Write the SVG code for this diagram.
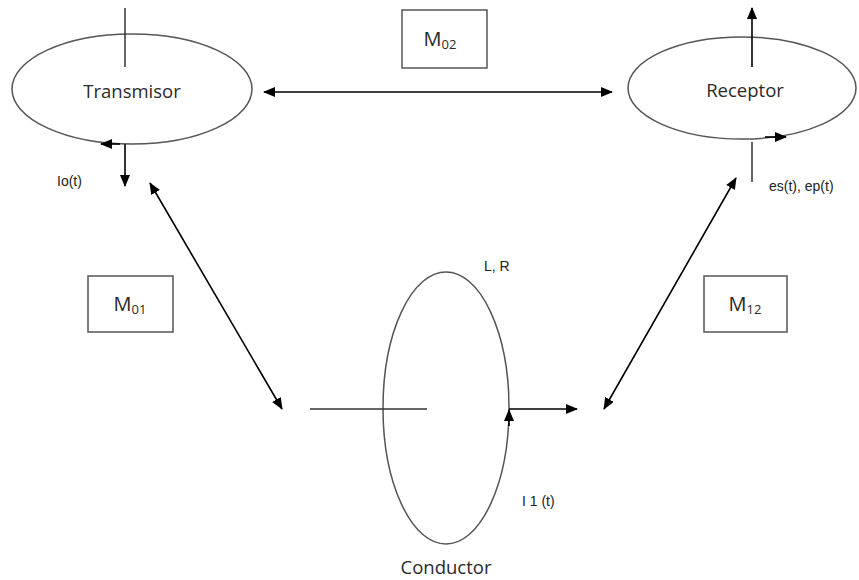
<svg xmlns="http://www.w3.org/2000/svg" width="859" height="580" viewBox="0 0 859 580">
<defs>
<marker id="ah" viewBox="0 0 12 10" refX="11" refY="5" markerWidth="12" markerHeight="10" markerUnits="userSpaceOnUse" orient="auto-start-reverse">
<path d="M0,0 L12,5 L0,10 z" fill="#000"/>
</marker>
<style>
.ell{fill:none;stroke:#555;stroke-width:1.5}
.box{fill:#fff;stroke:#555;stroke-width:1.5}
.ln{stroke:#333;stroke-width:1.5;fill:none}
.arr{stroke:#000;stroke-width:1.6;fill:none}
.big{font-family:"Open Sans",Lato,"Liberation Sans",sans-serif;font-size:18.5px;fill:#2a2a2a;text-anchor:middle}
.sm{font-family:"Liberation Sans",Arial,sans-serif;font-size:14px;fill:#222}
.m{font-family:"Open Sans",Lato,"Liberation Sans",sans-serif;font-size:20px;fill:#2a2a2a;text-anchor:middle;font-weight:500}
.sub{font-size:13px}
</style>
</defs>
<rect width="859" height="580" fill="#fff"/>
<g id="transmisor">
<ellipse class="ell" cx="132" cy="89" rx="120" ry="55"/>
<line class="ln" x1="125" y1="8" x2="125" y2="67"/>
<text class="big" x="132" y="98">Transmisor</text>
</g>
<g id="receptor">
<ellipse class="ell" cx="742" cy="88" rx="114" ry="51"/>
<text class="big" x="745" y="97">Receptor</text>
</g>
<g id="conductor">
<ellipse class="ell" cx="446" cy="408" rx="63" ry="136"/>
<line class="ln" x1="310" y1="409" x2="427" y2="409"/>
<text class="big" x="446" y="574">Conductor</text>
</g>
<g id="m02">
<rect class="box" x="402" y="10" width="85" height="58"/>
<text class="m" x="440" y="46">M<tspan class="sub" dy="3">02</tspan></text>
</g>
<g id="m01">
<rect class="box" x="88" y="276" width="85" height="56"/>
<text class="m" x="130" y="311">M<tspan class="sub" dy="3">01</tspan></text>
</g>
<g id="m12">
<rect class="box" x="704" y="276" width="83" height="56"/>
<text class="m" x="745" y="311">M<tspan class="sub" dy="3">12</tspan></text>
</g>
<g id="connectors">
<line class="arr" x1="264" y1="92" x2="612" y2="92" marker-start="url(#ah)" marker-end="url(#ah)"/>
<line class="arr" x1="150" y1="183" x2="282" y2="409" marker-start="url(#ah)" marker-end="url(#ah)"/>
<line class="arr" x1="604" y1="409" x2="736" y2="178" marker-start="url(#ah)" marker-end="url(#ah)"/>
<line class="arr" x1="125" y1="144" x2="125" y2="186" marker-end="url(#ah)"/>
<line class="arr" x1="120" y1="144" x2="101" y2="144" marker-end="url(#ah)"/>
<line class="arr" x1="752" y1="67" x2="752" y2="8" marker-end="url(#ah)"/>
<line class="arr" x1="765" y1="137" x2="786" y2="137" marker-end="url(#ah)"/>
<line class="ln" x1="752" y1="142" x2="752" y2="182"/>
<line class="arr" x1="509" y1="409" x2="577" y2="409" marker-end="url(#ah)"/>
<line class="arr" x1="509" y1="426" x2="509" y2="410" marker-end="url(#ah)"/>
</g>
<text class="sm" x="57" y="186">Io(t)</text>
<text class="sm" x="769" y="191">es(t), ep(t)</text>
<text class="sm" x="484" y="271">L, R</text>
<text class="sm" x="522" y="506">I 1 (t)</text>
</svg>
